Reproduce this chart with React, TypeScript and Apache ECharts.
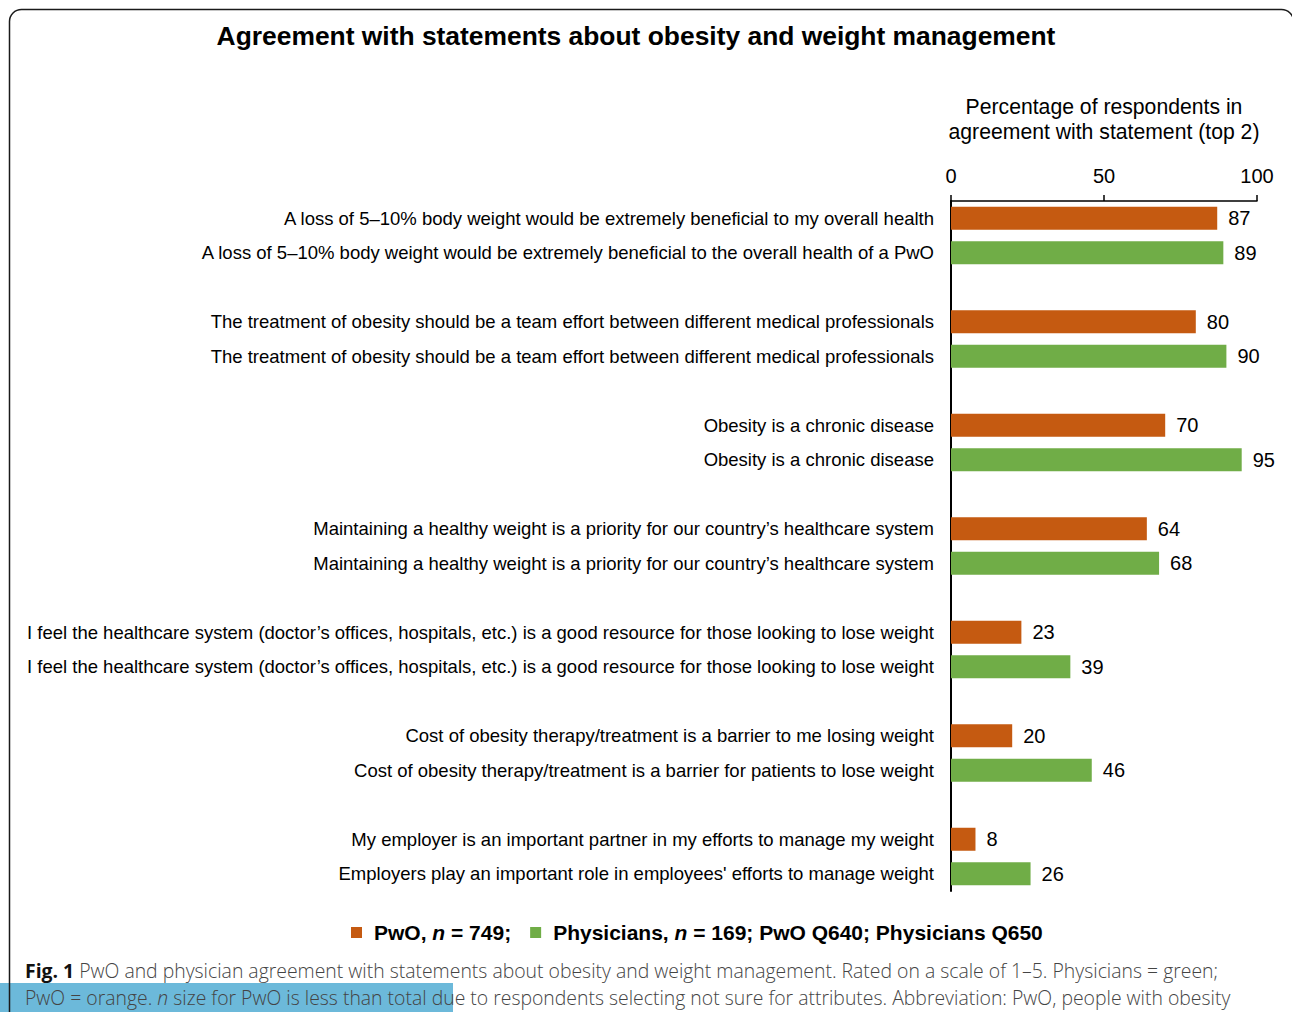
import React, { useEffect, useRef } from "react";
import * as echarts from "echarts";

const titleText = "Agreement with statements about obesity and weight management";
const axisTitle = "Percentage of respondents in\nagreement with statement (top 2)";
const xTicks = [0, 50, 100];

const pwoLabels = [
  "A loss of 5–10% body weight would be extremely beneficial to my overall health",
  "The treatment of obesity should be a team effort between different medical professionals",
  "Obesity is a chronic disease",
  "Maintaining a healthy weight is a priority for our country’s healthcare system",
  "I feel the healthcare system (doctor’s offices, hospitals, etc.) is a good resource for those looking to lose weight",
  "Cost of obesity therapy/treatment is a barrier to me losing weight",
  "My employer is an important partner in my efforts to manage my weight",
];
const physLabels = [
  "A loss of 5–10% body weight would be extremely beneficial to the overall health of a PwO",
  "The treatment of obesity should be a team effort between different medical professionals",
  "Obesity is a chronic disease",
  "Maintaining a healthy weight is a priority for our country’s healthcare system",
  "I feel the healthcare system (doctor’s offices, hospitals, etc.) is a good resource for those looking to lose weight",
  "Cost of obesity therapy/treatment is a barrier for patients to lose weight",
  "Employers play an important role in employees' efforts to manage weight",
];
const pwoValues = [87, 80, 70, 64, 23, 20, 8];
const physValues = [89, 90, 95, 68, 39, 46, 26];

const captionLine1 = "PwO and physician agreement with statements about obesity and weight management. Rated on a scale of 1–5. Physicians = green;";
const captionLine2a = "PwO = orange. ";
const captionLine2b = " size for PwO is less than total due to respondents selecting not sure for attributes. Abbreviation: PwO, people with obesity";

const ORANGE = "#C55A11";
const GREEN = "#70AD47";

export default function App() {
  const ref = useRef<HTMLDivElement>(null);
  useEffect(() => {
    if (!ref.current) return;
    const chart = echarts.init(ref.current, undefined, { renderer: "svg" });

    const rowLabels: string[] = [];
    const pwoData: (number | string)[] = [];
    const physData: (number | string)[] = [];
    pwoLabels.forEach((lab, i) => {
      rowLabels.push(lab);
      pwoData.push(pwoValues[i]);
      physData.push("-");
      rowLabels.push(physLabels[i]);
      pwoData.push("-");
      physData.push(physValues[i]);
      if (i < pwoLabels.length - 1) {
        rowLabels.push("");
        pwoData.push("-");
        physData.push("-");
      }
    });
    const rowKeys = rowLabels.map((_, i) => "r" + i);

    const font = "Liberation Sans, Arial, sans-serif";
    const capFont = "Open Sans, sans-serif";

    const valueLabel = {
      show: true,
      position: "right",
      distance: 11,
      fontFamily: font,
      fontSize: 20,
      color: "#000",
    };

    chart.setOption({
      animation: false,
      title: {
        text: titleText,
        left: 631,
        top: 18,
        textAlign: "center",
        textStyle: { fontFamily: font, fontSize: 26.4, fontWeight: "bold", color: "#000" },
      },
      grid: { left: 951, top: 201, width: 306, height: 690, containLabel: false },
      xAxis: {
        type: "value",
        position: "top",
        min: 0,
        max: 100,
        interval: 50,
        name: axisTitle,
        nameLocation: "middle",
        nameGap: 57,
        nameTextStyle: { fontFamily: font, fontSize: 21.2, color: "#000", lineHeight: 25 },
        axisLine: { show: true, lineStyle: { color: "#000", width: 1.5 } },
        axisTick: { show: true, length: 6, lineStyle: { color: "#000", width: 1.5 } },
        axisLabel: { fontFamily: font, fontSize: 20, color: "#000", margin: 15 },
        splitLine: { show: false },
        data: xTicks,
      },
      yAxis: {
        type: "category",
        inverse: true,
        data: rowKeys,
        axisLine: { show: true, lineStyle: { color: "#000", width: 2 } },
        axisTick: { show: false },
        axisLabel: {
          fontFamily: font,
          fontSize: 18.5,
          color: "#000",
          margin: 17,
          interval: 0,
          formatter: (_v: string, idx: number) => rowLabels[idx],
        },
      },
      legend: {
        left: 351,
        top: 922,
        padding: 0,
        itemWidth: 11,
        itemHeight: 11,
        itemGap: 19,
        icon: "rect",
        data: ["PwO", "Physicians"],
        formatter: (name: string) =>
          name === "PwO"
            ? "{p|}{b|PwO, }{i|n}{b| = 749;}"
            : "{p|}{b|Physicians, }{i|n}{b| = 169; PwO Q640; Physicians Q650}",
        textStyle: {
          fontFamily: font,
          fontSize: 21,
          fontWeight: "bold",
          color: "#000",
          rich: {
            p: { width: 7 },
            b: { fontFamily: font, fontSize: 21, fontWeight: "bold", color: "#000" },
            i: { fontFamily: font, fontSize: 21, fontWeight: "bold", fontStyle: "italic", color: "#000" },
          },
        },
      },
      series: [
        {
          name: "PwO",
          type: "bar",
          data: pwoData,
          barWidth: 23,
          barGap: "-100%",
          itemStyle: { color: ORANGE },
          label: valueLabel,
        },
        {
          name: "Physicians",
          type: "bar",
          data: physData,
          barWidth: 23,
          barGap: "-100%",
          itemStyle: { color: GREEN },
          label: valueLabel,
        },
      ],
      graphic: [
        {
          type: "rect",
          z: -10,
          shape: { x: 0, y: 983, width: 453, height: 29 },
          style: { fill: "#6CB9DA" },
        },
        {
          type: "rect",
          z: 10,
          shape: { x: 9.5, y: 9.5, width: 1284, height: 1100, r: 12 },
          style: { fill: "none", stroke: "#1a1a1a", lineWidth: 1.5 },
        },
        {
          type: "text",
          x: 25,
          y: 970,
          z: 10,
          style: {
            text: "{fb|Fig. 1} " + captionLine1,
            verticalAlign: "middle",
            fontFamily: capFont,
            fontSize: 19.4,
            fontWeight: 300,
            fill: "#444",
            rich: {
              fb: { fontFamily: capFont, fontSize: 19.4, fontWeight: "bold", fill: "#111" },
            },
          },
        },
        {
          type: "text",
          x: 25,
          y: 997,
          z: 10,
          style: {
            text: captionLine2a + "{it|n}" + captionLine2b,
            verticalAlign: "middle",
            fontFamily: capFont,
            fontSize: 19.4,
            fontWeight: 300,
            fill: "#444",
            rich: {
              it: { fontFamily: capFont, fontSize: 19.4, fontStyle: "italic", fontWeight: 300, fill: "#444" },
            },
          },
        },
      ],
    });
    return () => chart.dispose();
  }, []);
  return (
    <div
      ref={ref}
      style={{ position: "absolute", left: 0, top: 0, width: 1292, height: 1012, background: "#fff" }}
    />
  );
}
